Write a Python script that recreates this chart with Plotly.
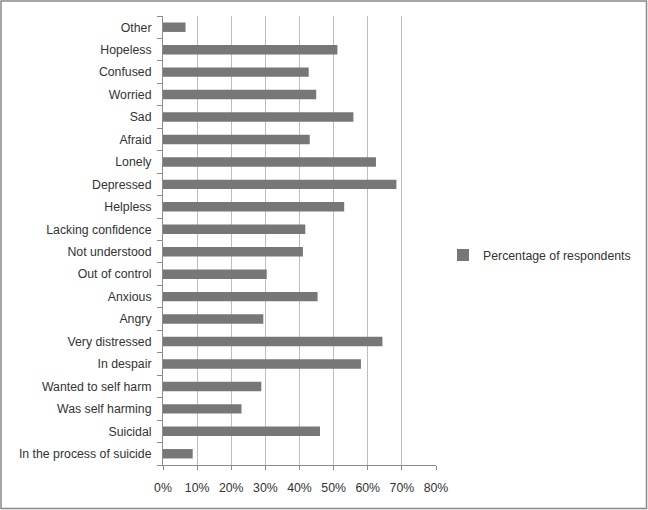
import plotly.graph_objects as go

categories = ["In the process of suicide", "Suicidal", "Was self harming", "Wanted to self harm",
              "In despair", "Very distressed", "Angry", "Anxious", "Out of control",
              "Not understood", "Lacking confidence", "Helpless", "Depressed", "Lonely",
              "Afraid", "Sad", "Worried", "Confused", "Hopeless", "Other"]
values = [8.7, 46.0, 23.0, 28.8, 58.0, 64.3, 29.4, 45.3, 30.4,
          41.0, 41.7, 53.1, 68.4, 62.4, 43.0, 55.8, 44.9, 42.7, 51.1, 6.6]
values = [v / 100 for v in values]
series_name = "Percentage of respondents"
tick_vals = [0, 0.1, 0.2, 0.3, 0.4, 0.5, 0.6, 0.7, 0.8]
tick_text = ["0%", "10%", "20%", "30%", "40%", "50%", "60%", "70%", "80%"]

W, H = 648, 510
L, R, T, B = 163, 212, 16, 45
pw, ph = W - L - R, H - T - B

fig = go.Figure(go.Bar(
    x=values, y=categories, orientation="h", name=series_name,
    marker=dict(color="#777777", line=dict(width=0)),
    width=0.42, showlegend=True,
))

font = dict(family="Liberation Sans, Arial, sans-serif", size=12.3, color="#333333")
fig.update_layout(
    width=W, height=H,
    margin=dict(l=L, r=R, t=T, b=B, autoexpand=False),
    paper_bgcolor="white", plot_bgcolor="white",
    font=font,
    xaxis=dict(range=[0, 0.8], tickvals=tick_vals, ticktext=tick_text,
               showgrid=True, gridcolor="#bdbdbd", gridwidth=1,
               showline=True, linecolor="#8c8c8c", linewidth=1,
               ticks="outside", ticklen=4, tickcolor="#8c8c8c",
               zeroline=False, fixedrange=True, tickfont=font, automargin=False,
               ticklabelstandoff=7),
    yaxis=dict(type="category", categoryorder="array", categoryarray=categories,
               showline=True, linecolor="#8c8c8c", linewidth=1,
               ticks="outside", ticklen=5, tickcolor="#8c8c8c", tickson="boundaries",
               showgrid=False, fixedrange=True, tickfont=font,
               ticklabelstandoff=8, automargin=False),
    legend=dict(x=(443 - L) / pw, xanchor="left", y=(465 - 255) / ph, yanchor="middle",
                bgcolor="rgba(0,0,0,0)", font=font),
    shapes=[dict(type="rect", xref="paper", yref="paper",
                 x0=(1 - L) / pw, x1=(646.5 - L) / pw,
                 y0=(H - B - 508.5) / ph, y1=(H - B - 1) / ph,
                 line=dict(color="#888888", width=1.5), fillcolor="rgba(0,0,0,0)", layer="below")],
)

fig.write_html("out.html", config={"displayModeBar": False},
               post_script="document.body.style.margin='0';document.body.style.overflow='hidden';")
